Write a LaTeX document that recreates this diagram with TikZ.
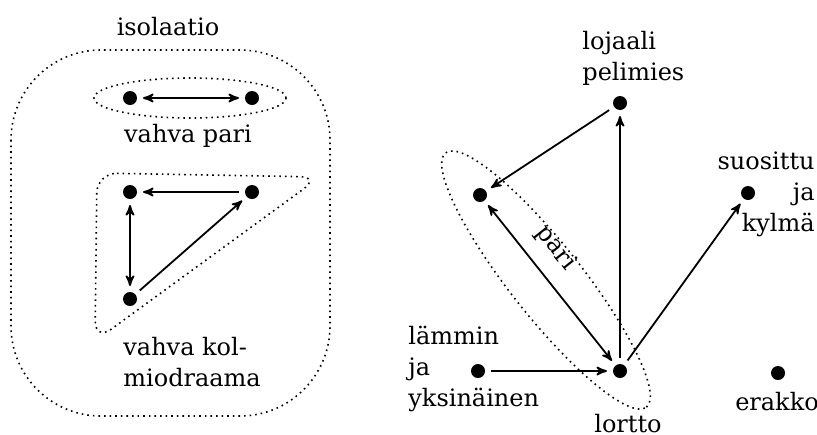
\documentclass[tikz,border=0pt]{standalone}
\usepackage{fontspec}
\setmainfont{DejaVu Serif}
\usetikzlibrary{shapes.geometric}
\usetikzlibrary{arrows}

\begin{document}
\begin{tikzpicture}[x=0.5pt,y=-0.5pt]

                \tikzset{agent/.style = {shape=circle,fill,minimum size=7pt,inner sep=0pt,outer sep=3pt}}
                \tikzset{edge/.style = {-stealth',line width=0.9pt}}
                \tikzset{both/.style = {stealth'-stealth',line width=0.9pt}}
                \tikzset{group/.style = {draw,dotted,thick}}
                \tikzset{txt/.style = {inner sep=0pt,font=\fontsize{12}{15.5}\selectfont}}

                \useasboundingbox (0,0) rectangle (817,434);

                % vasen puoli
                \node[txt,anchor=base] (iso) at (168,35) {isolaatio};
                \draw[group,rounded corners=45pt] (11,50) rectangle (330,416);

                \node[agent] (p1) at (130,98) {};
                \node[agent] (p2) at (252,98) {};
                \node[group,ellipse,minimum width=96pt,minimum height=20pt] (vp) at (190,98) {};
                \node[txt,anchor=base] (vplab) at (188,142) {vahva pari};

                \node[agent] (t1) at (130,192) {};
                \node[agent] (t2) at (252,192) {};
                \node[agent] (t3) at (130,299) {};
                \draw[group,rounded corners=10pt] (97,173) -- (320,177) -- (95,341) -- cycle;
                \node[txt,anchor=base west,align=left] (vklab) at (123,386) {vahva kol-\\miodraama};

                \draw[both] (p1) -- (p2);
                \draw[edge] (t2) -- (t1);
                \draw[both] (t1) -- (t3);
                \draw[edge] (t3) -- (t2);

                % oikea puoli
                \node[agent] (lp) at (620,103) {};
                \node[agent] (pa) at (480,195) {};
                \node[agent] (lo) at (620,371) {};
                \node[agent] (ly) at (478,371) {};
                \node[agent] (sk) at (748,193) {};
                \node[agent] (er) at (778,373) {};

                \node[group,ellipse,rotate=-51.7,minimum width=162pt,minimum height=36pt] (pr) at (546,280) {};

                \node[txt,anchor=base west,align=left] (lplab) at (582,80) {lojaali\\pelimies};
                \node[txt,anchor=base east,align=right] (sklab) at (815,231) {suosittu\\ja\\kylmä};
                \node[txt,anchor=base west,align=left] (lylab) at (408,406) {lämmin\\ja\\yksinäinen};
                \node[txt,anchor=base] (lolab) at (628,432) {lortto};
                \node[txt,anchor=base] (erlab) at (777,410) {erakko};

                \draw[edge] (lp) -- (pa);
                \draw[edge] (lo) -- (lp);
                \draw[both] (pa) -- node[txt,sloped,above=7pt,pos=0.38] (prlab) {pari} (lo);
                \draw[edge] (ly) -- (lo);
                \draw[edge] (lo) -- (sk);

\end{tikzpicture}
\end{document}
